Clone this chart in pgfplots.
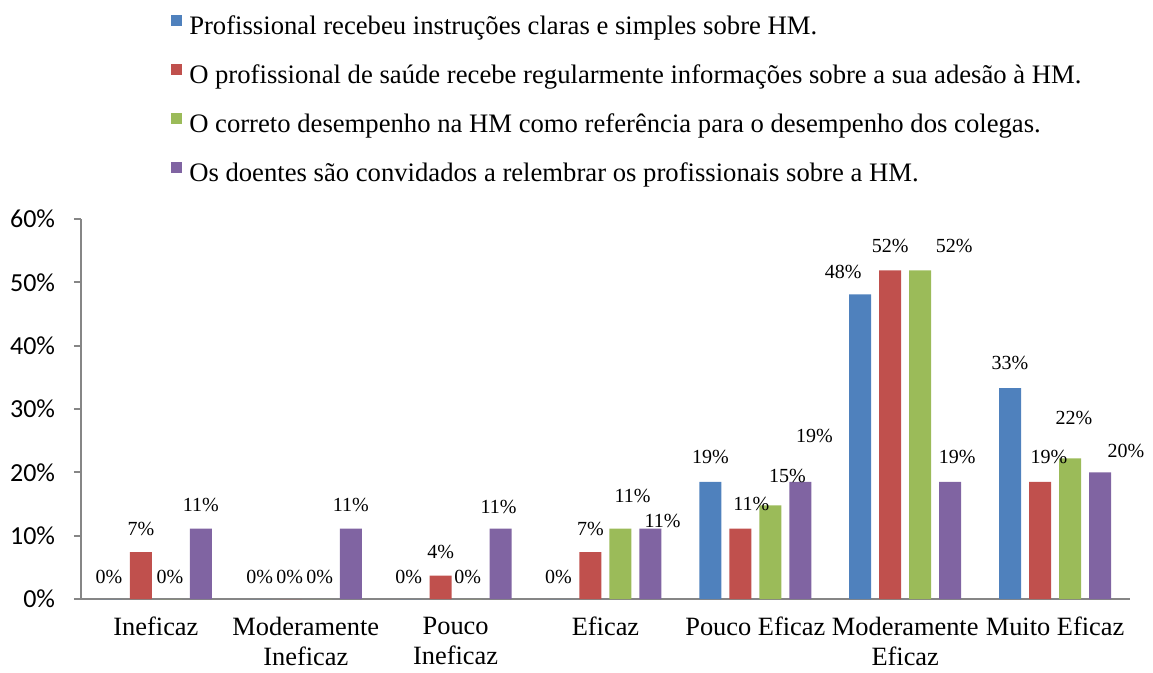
\documentclass[border=0pt]{standalone}
\usepackage{fontspec}
\setmainfont{Liberation Serif}
\newfontfamily\calibri{Carlito}
\usepackage{pgfplots}
\pgfplotsset{compat=1.18}
\definecolor{c1}{RGB}{79,129,189}
\definecolor{c2}{RGB}{192,80,77}
\definecolor{c3}{RGB}{155,187,89}
\definecolor{c4}{RGB}{128,100,162}
\definecolor{axgray}{RGB}{134,134,134}

\begin{document}
\begin{tikzpicture}
% page frame: 1px = 0.75pt
\path[use as bounding box] (-60.75pt,-54.75pt) rectangle (804pt,449.25pt);
\begin{axis}[
  scale only axis,
  width=786.75pt, height=285pt,
  ybar=6pt, bar width=16.5pt,
  xmin=-0.5, xmax=6.5,
  ymin=0, ymax=60,
  xtick={0,...,6},
  xticklabels={Ineficaz, {Moderamente\\Ineficaz}, {Pouco\\Ineficaz}, Eficaz,
               Pouco Eficaz, {Moderamente\\Eficaz}, Muito Eficaz},
  ytick={0,10,...,60},
  /pgf/number format/assume math mode=true,
  yticklabel={\pgfmathprintnumber{\tick}\%},
  axis x line*=bottom, axis y line*=left,
  axis line style={axgray, line width=1.3pt},
  x axis line style={-}, y axis line style={-},
  xtick style={draw=none},
  ytick style={axgray, line width=1.3pt},
  tick align=outside, major tick length=5.25pt,
  yticklabel style={font=\calibri\fontsize{19.5}{23}\selectfont, inner sep=0pt, xshift=-14pt},
  xticklabel style={font=\fontsize{19.8}{22.5}\selectfont, align=center, inner sep=0pt, yshift=-8pt},
  visualization depends on={\thisrow{dx}\as\dx},
  visualization depends on={\thisrow{dy}\as\dy},
  point meta=explicit symbolic,
  nodes near coords={\pgfplotspointmeta\%},
  every node near coord/.append style={font=\fontsize{15}{18}\selectfont, anchor=center,
      inner sep=0pt, xshift=\dx*0.75pt, yshift=\dy*0.75pt, text=black},
  legend style={at={(axis description cs:0,1)}, anchor=north west,
      xshift=67.5pt, yshift=153.5pt, draw=none, fill=none, inner sep=0pt,
      row sep=18pt, column sep=5.25pt,
      font=\fontsize{20}{23}\selectfont,
      nodes={inner sep=0pt, text height=14pt, text depth=4pt}},
  legend cell align=left,
  legend image code/.code={\fill[#1] (0pt,1.5pt) rectangle (8.25pt,9.75pt);},
]
\addplot[fill=c1, draw=none] table[x=x, y=y, meta=lab] {
x y dx dy lab
0 0 -2 22 0
1 0 -1 22 0
2 0 -2 22 0
3 0 -2 22 0
4 18.5 0 25 19
5 48.1 -17 22 48
6 33.3 0 25 33
};
\addlegendentry{Profissional recebeu instruções claras e simples sobre HM.}
\addplot[fill=c2, draw=none] table[x=x, y=y, meta=lab] {
x y dx dy lab
0 7.4 0 23 7
1 0 -1 22 0
2 3.7 0 24 4
3 7.4 0 23 7
4 11.1 11 25 11
5 51.9 0 24 52
6 18.5 9 25 19
};
\addlegendentry{O profissional de saúde recebe regularmente informações sobre a sua adesão à HM.}
\addplot[fill=c3, draw=none] table[x=x, y=y, meta=lab] {
x y dx dy lab
0 0 -1 22 0
1 0 -1 22 0
2 0 -3 22 0
3 11.1 12 33 11
4 14.8 17 29 15
5 51.9 34 24 52
6 22.2 4 40 22
};
\addlegendentry{O correto desempenho na HM como referência para o desempenho dos colegas.}
\addplot[fill=c4, draw=none] table[x=x, y=y, meta=lab] {
x y dx dy lab
0 11.1 0 24 11
1 11.1 0 24 11
2 11.1 -2 22 11
3 11.1 12 8 11
4 18.5 14 46 19
5 18.5 7 25 19
6 20 26 21 20
};
\addlegendentry{Os doentes são convidados a relembrar os profissionais sobre a HM.}
\end{axis}
\end{tikzpicture}
\end{document}
